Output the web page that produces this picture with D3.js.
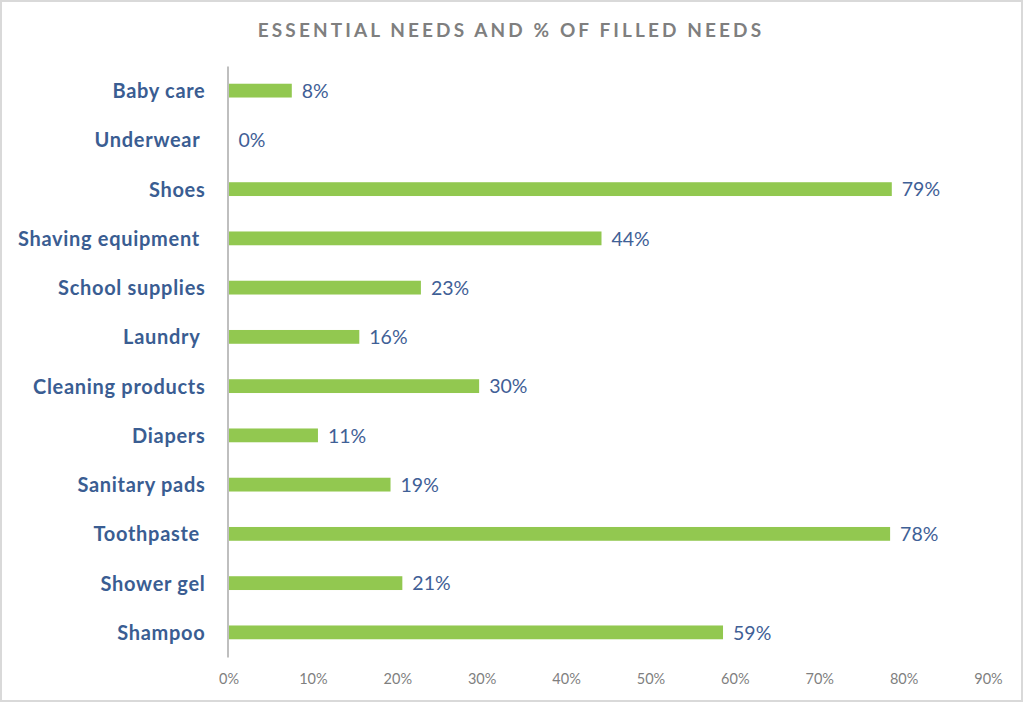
<!DOCTYPE html>
<html>
<head>
<meta charset="utf-8">
<script src="https://cdn.jsdelivr.net/npm/d3@7/dist/d3.min.js"></script>
<style>
  html, body { margin: 0; padding: 0; background: #fff; }
  svg { display: block; }
  text { white-space: pre; }
</style>
</head>
<body>
<svg id="chart" width="1024" height="703"></svg>
<script>
const title = "ESSENTIAL NEEDS AND % OF FILLED NEEDS";
const categories = ["Baby care", "Underwear ", "Shoes", "Shaving equipment ", "School supplies", "Laundry ",
  "Cleaning products", "Diapers", "Sanitary pads", "Toothpaste ", "Shower gel", "Shampoo"];
const values = [7.5, 0, 78.6, 44.2, 22.8, 15.5, 29.7, 10.6, 19.2, 78.4, 20.6, 58.6];
const tickValues = [0, 10, 20, 30, 40, 50, 60, 70, 80, 90];

const svg = d3.select("#chart");
const W = 1024, H = 703;
const m = { left: 228.5, right: 36, top: 66, bottom: 46 };
const font = "Lato, 'Open Sans', sans-serif";

// frame
svg.append("rect").attr("x", 1).attr("y", 1).attr("width", W - 3).attr("height", H - 3)
  .attr("fill", "#fff").attr("stroke", "#D9D9D9").attr("stroke-width", 2);

const x = d3.scaleLinear().domain([0, 90]).range([m.left, W - m.right]);
const y = d3.scaleBand().domain(categories).range([m.top, H - m.bottom])
  .paddingInner(0.72).paddingOuter(0.36);

// title
svg.append("text").attr("x", 511).attr("y", 37).attr("text-anchor", "middle")
  .attr("font-family", font).attr("font-size", 19).attr("font-weight", 700)
  .attr("letter-spacing", "3.1px").attr("fill", "#7F7F7F").text(title);

// bars
const data = categories.map((c, i) => ({ c, v: values[i] }));
svg.append("g").selectAll("rect").data(data).join("rect")
  .attr("x", x(0)).attr("y", d => y(d.c))
  .attr("width", d => x(d.v) - x(0)).attr("height", y.bandwidth())
  .attr("fill", "#92C850");

// value labels
svg.append("g").selectAll("text").data(data).join("text")
  .attr("x", d => x(d.v) + 10).attr("y", d => y(d.c) + y.bandwidth() / 2)
  .attr("dy", "0.37em").attr("font-family", font).attr("font-size", 19.5)
  .attr("fill", "#3F6096").text(d => Math.round(d.v) + "%");

// y axis
const yAxis = d3.axisLeft(y).tickSize(0).tickPadding(22);
const gy = svg.append("g").attr("transform", `translate(${m.left - 1},0)`).call(yAxis);
gy.select(".domain").attr("stroke", "#BFBFBF").attr("stroke-width", 2);
gy.selectAll("text").attr("font-family", font).attr("font-size", 20).attr("font-weight", 700)
  .attr("letter-spacing", "0.7px").attr("dy", "0.37em").attr("fill", "#3A5D92");

// x axis (labels only)
const xAxis = d3.axisBottom(x).tickValues(tickValues).tickSize(0).tickPadding(0)
  .tickFormat(d => d + "%");
const gx = svg.append("g").attr("transform", `translate(0,${H - m.bottom + 17})`).call(xAxis);
gx.select(".domain").remove();
gx.selectAll("text").attr("font-family", font).attr("font-size", 14.5).attr("fill", "#7F7F7F");
</script>
</body>
</html>
